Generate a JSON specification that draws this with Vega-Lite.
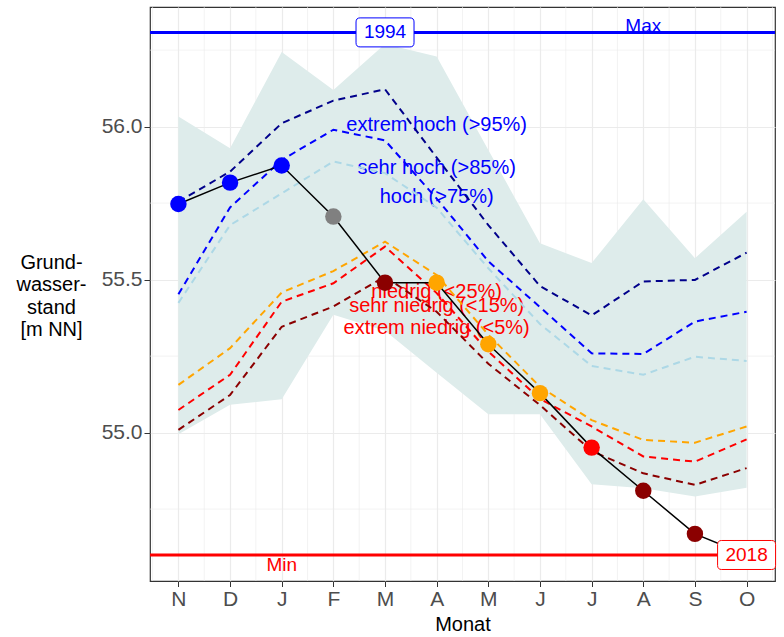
{
  "$schema": "https://vega.github.io/schema/vega-lite/v6.json",
  "width": 625,
  "height": 574,
  "autosize": {"type": "none"},
  "padding": {"left": 150, "top": 7, "right": 9, "bottom": 56},
  "background": "white",
  "config": {
    "font": "Liberation Sans",
    "view": {"stroke": "#333333", "strokeWidth": 1.2}
  },
  "datasets": {
    "obs": [
      {"m": 1, "wert": 55.747, "klasse": "sehr hoch"},
      {"m": 2, "wert": 55.817, "klasse": "sehr hoch"},
      {"m": 3, "wert": 55.873, "klasse": "sehr hoch"},
      {"m": 4, "wert": 55.706, "klasse": "normal"},
      {"m": 5, "wert": 55.490, "klasse": "extrem niedrig"},
      {"m": 6, "wert": 55.490, "klasse": "niedrig"},
      {"m": 7, "wert": 55.289, "klasse": "niedrig"},
      {"m": 8, "wert": 55.129, "klasse": "niedrig"},
      {"m": 9, "wert": 54.951, "klasse": "sehr niedrig"},
      {"m": 10, "wert": 54.810, "klasse": "extrem niedrig"},
      {"m": 11, "wert": 54.669, "klasse": "extrem niedrig"},
      {"m": 12, "wert": 54.600, "klasse": "extrem niedrig"}
    ],
    "band": [
      {"m": 1, "lo": 54.995, "hi": 56.033},
      {"m": 2, "lo": 55.091, "hi": 55.929},
      {"m": 3, "lo": 55.109, "hi": 56.244},
      {"m": 4, "lo": 55.385, "hi": 56.120},
      {"m": 5, "lo": 55.333, "hi": 56.270},
      {"m": 6, "lo": 55.196, "hi": 56.229},
      {"m": 7, "lo": 55.060, "hi": 55.924},
      {"m": 8, "lo": 55.060, "hi": 55.619},
      {"m": 9, "lo": 54.831, "hi": 55.554},
      {"m": 10, "lo": 54.818, "hi": 55.763},
      {"m": 11, "lo": 54.791, "hi": 55.570},
      {"m": 12, "lo": 54.820, "hi": 55.722}
    ],
    "perz": [
      {"m": 1, "serie": "p95", "wert": 55.755},
      {"m": 2, "serie": "p95", "wert": 55.853},
      {"m": 3, "serie": "p95", "wert": 56.011},
      {"m": 4, "serie": "p95", "wert": 56.085},
      {"m": 5, "serie": "p95", "wert": 56.122},
      {"m": 6, "serie": "p95", "wert": 55.899},
      {"m": 7, "serie": "p95", "wert": 55.678},
      {"m": 8, "serie": "p95", "wert": 55.479},
      {"m": 9, "serie": "p95", "wert": 55.383},
      {"m": 10, "serie": "p95", "wert": 55.494},
      {"m": 11, "serie": "p95", "wert": 55.499},
      {"m": 12, "serie": "p95", "wert": 55.588},
      {"m": 1, "serie": "p85", "wert": 55.452},
      {"m": 2, "serie": "p85", "wert": 55.736},
      {"m": 3, "serie": "p85", "wert": 55.891},
      {"m": 4, "serie": "p85", "wert": 55.990},
      {"m": 5, "serie": "p85", "wert": 55.955},
      {"m": 6, "serie": "p85", "wert": 55.765},
      {"m": 7, "serie": "p85", "wert": 55.560},
      {"m": 8, "serie": "p85", "wert": 55.410},
      {"m": 9, "serie": "p85", "wert": 55.259},
      {"m": 10, "serie": "p85", "wert": 55.257},
      {"m": 11, "serie": "p85", "wert": 55.363},
      {"m": 12, "serie": "p85", "wert": 55.395},
      {"m": 1, "serie": "p75", "wert": 55.424},
      {"m": 2, "serie": "p75", "wert": 55.678},
      {"m": 3, "serie": "p75", "wert": 55.782},
      {"m": 4, "serie": "p75", "wert": 55.886},
      {"m": 5, "serie": "p75", "wert": 55.848},
      {"m": 6, "serie": "p75", "wert": 55.735},
      {"m": 7, "serie": "p75", "wert": 55.537},
      {"m": 8, "serie": "p75", "wert": 55.355},
      {"m": 9, "serie": "p75", "wert": 55.218},
      {"m": 10, "serie": "p75", "wert": 55.189},
      {"m": 11, "serie": "p75", "wert": 55.248},
      {"m": 12, "serie": "p75", "wert": 55.234},
      {"m": 1, "serie": "p25", "wert": 55.156},
      {"m": 2, "serie": "p25", "wert": 55.276},
      {"m": 3, "serie": "p25", "wert": 55.458},
      {"m": 4, "serie": "p25", "wert": 55.528},
      {"m": 5, "serie": "p25", "wert": 55.624},
      {"m": 6, "serie": "p25", "wert": 55.515},
      {"m": 7, "serie": "p25", "wert": 55.320},
      {"m": 8, "serie": "p25", "wert": 55.150},
      {"m": 9, "serie": "p25", "wert": 55.041},
      {"m": 10, "serie": "p25", "wert": 54.976},
      {"m": 11, "serie": "p25", "wert": 54.967},
      {"m": 12, "serie": "p25", "wert": 55.020},
      {"m": 1, "serie": "p15", "wert": 55.074},
      {"m": 2, "serie": "p15", "wert": 55.189},
      {"m": 3, "serie": "p15", "wert": 55.428},
      {"m": 4, "serie": "p15", "wert": 55.488},
      {"m": 5, "serie": "p15", "wert": 55.608},
      {"m": 6, "serie": "p15", "wert": 55.456},
      {"m": 7, "serie": "p15", "wert": 55.265},
      {"m": 8, "serie": "p15", "wert": 55.110},
      {"m": 9, "serie": "p15", "wert": 55.020},
      {"m": 10, "serie": "p15", "wert": 54.922},
      {"m": 11, "serie": "p15", "wert": 54.905},
      {"m": 12, "serie": "p15", "wert": 54.978},
      {"m": 1, "serie": "p05", "wert": 55.009},
      {"m": 2, "serie": "p05", "wert": 55.123},
      {"m": 3, "serie": "p05", "wert": 55.346},
      {"m": 4, "serie": "p05", "wert": 55.412},
      {"m": 5, "serie": "p05", "wert": 55.510},
      {"m": 6, "serie": "p05", "wert": 55.395},
      {"m": 7, "serie": "p05", "wert": 55.225},
      {"m": 8, "serie": "p05", "wert": 55.090},
      {"m": 9, "serie": "p05", "wert": 54.940},
      {"m": 10, "serie": "p05", "wert": 54.867},
      {"m": 11, "serie": "p05", "wert": 54.829},
      {"m": 12, "serie": "p05", "wert": 54.884}
    ],
    "labels": [
      {"m": 6, "wert": 56.006, "text": "extrem hoch (>95%)", "grp": "hoch"},
      {"m": 6, "wert": 55.864, "text": "sehr hoch (>85%)", "grp": "hoch"},
      {"m": 6, "wert": 55.771, "text": "hoch (>75%)", "grp": "hoch"},
      {"m": 6, "wert": 55.461, "text": "niedrig (<25%)", "grp": "niedrig"},
      {"m": 6, "wert": 55.415, "text": "sehr niedrig (<15%)", "grp": "niedrig"},
      {"m": 6, "wert": 55.341, "text": "extrem niedrig (<5%)", "grp": "niedrig"}
    ],
    "extreme": [
      {"typ": "Max", "wert": 56.308, "jahr": "1994", "jm": 5, "lm": 10},
      {"typ": "Min", "wert": 54.600, "jahr": "2018", "jm": 12, "lm": 3}
    ],
    "gx": [
      {"m": 0.5}, {"m": 1.5}, {"m": 2.5}, {"m": 3.5}, {"m": 4.5}, {"m": 5.5}, {"m": 6.5},
      {"m": 7.5}, {"m": 8.5}, {"m": 9.5}, {"m": 10.5}, {"m": 11.5}, {"m": 12.5}
    ],
    "gy": [
      {"wert": 54.75}, {"wert": 55.25}, {"wert": 55.75}, {"wert": 56.25}
    ]
  },
  "resolve": {"scale": {"color": "independent", "stroke": "independent"}},
  "layer": [
    {
      "data": {"name": "gx"},
      "mark": {"type": "rule", "color": "#EBEBEB", "strokeWidth": 0.6},
      "encoding": {
        "x": {
          "field": "m", "type": "quantitative",
          "scale": {"domain": [0.45, 12.55], "nice": false, "zero": false},
          "axis": {
            "values": [1, 2, 3, 4, 5, 6, 7, 8, 9, 10, 11, 12],
            "labelExpr": "datum.value == 1 ? 'N' : datum.value == 2 ? 'D' : datum.value == 3 ? 'J' : datum.value == 4 ? 'F' : datum.value == 5 ? 'M' : datum.value == 6 ? 'A' : datum.value == 7 ? 'M' : datum.value == 8 ? 'J' : datum.value == 9 ? 'J' : datum.value == 10 ? 'A' : datum.value == 11 ? 'S' : 'O'",
            "title": "Monat",
            "grid": true,
            "gridColor": "#EBEBEB",
            "gridWidth": 1.2,
            "domain": false,
            "tickColor": "#333333", "tickSize": 5.5, "tickWidth": 1,
            "labelColor": "#4D4D4D", "labelFontSize": 21, "labelPadding": 2,
            "labelFlush": false, "labelOverlap": false,
            "titleFontSize": 20, "titleFontWeight": "normal", "titleColor": "#000000",
            "titlePadding": 5
          }
        }
      }
    },
    {
      "data": {"name": "gy"},
      "mark": {"type": "rule", "color": "#EBEBEB", "strokeWidth": 0.6},
      "encoding": {
        "y": {
          "field": "wert", "type": "quantitative",
          "scale": {"domain": [54.515, 56.391], "nice": false, "zero": false},
          "axis": {
            "values": [55, 55.5, 56],
            "format": ".1f",
            "title": ["Grund-", "wasser-", "stand", "[m NN]"],
            "grid": true,
            "gridColor": "#EBEBEB",
            "gridWidth": 1.2,
            "domain": false,
            "tickColor": "#333333", "tickSize": 6, "tickWidth": 1,
            "labelColor": "#4D4D4D", "labelFontSize": 21, "labelPadding": 2,
            "labelOverlap": false, "labelFlush": false,
            "titleFontSize": 20, "titleFontWeight": "normal", "titleColor": "#000000",
            "titleAngle": 0, "titleAlign": "center", "titleBaseline": "middle",
            "titleX": -99, "titleY": 255, "titleLineHeight": 22.5
          }
        }
      }
    },
    {
      "data": {"name": "band"},
      "mark": {"type": "area", "color": "#DEECEB", "opacity": 1},
      "encoding": {
        "x": {"field": "m", "type": "quantitative"},
        "y": {"field": "lo", "type": "quantitative"},
        "y2": {"field": "hi"}
      }
    },
    {
      "data": {"name": "labels"},
      "mark": {"type": "text", "align": "center", "baseline": "middle", "fontSize": 20},
      "encoding": {
        "x": {"field": "m", "type": "quantitative"},
        "y": {"field": "wert", "type": "quantitative"},
        "text": {"field": "text"},
        "color": {"field": "grp", "type": "nominal", "scale": {"domain": ["hoch", "niedrig"], "range": ["#0000FF", "#FF0000"]}, "legend": null}
      }
    },
    {
      "data": {"name": "extreme"},
      "mark": {"type": "rule", "strokeWidth": 3},
      "encoding": {
        "y": {"field": "wert", "type": "quantitative"},
        "color": {"field": "typ", "type": "nominal", "scale": {"domain": ["Max", "Min"], "range": ["#0000FF", "#FF0000"]}, "legend": null}
      }
    },
    {
      "data": {"name": "perz"},
      "mark": {"type": "line", "strokeDash": [7, 5], "strokeWidth": 2},
      "encoding": {
        "x": {"field": "m", "type": "quantitative"},
        "y": {"field": "wert", "type": "quantitative"},
        "color": {"field": "serie", "type": "nominal", "scale": {"domain": ["p95", "p85", "p75", "p25", "p15", "p05"], "range": ["#00008B", "#0000FF", "#ADD8E6", "#FFA500", "#FF0000", "#8B0000"]}, "legend": null},
        "detail": {"field": "serie"}
      }
    },
    {
      "data": {"name": "obs"},
      "mark": {"type": "line", "color": "#000000", "strokeWidth": 1.5},
      "encoding": {
        "x": {"field": "m", "type": "quantitative"},
        "y": {"field": "wert", "type": "quantitative"}
      }
    },
    {
      "data": {"name": "obs"},
      "mark": {"type": "point", "filled": true, "size": 270, "opacity": 1},
      "encoding": {
        "x": {"field": "m", "type": "quantitative"},
        "y": {"field": "wert", "type": "quantitative"},
        "color": {"field": "klasse", "type": "nominal", "scale": {"domain": ["sehr hoch", "normal", "niedrig", "sehr niedrig", "extrem niedrig"], "range": ["#0000FF", "#808080", "#FFA500", "#FF0000", "#8B0000"]}, "legend": null}
      }
    },
    {
      "data": {"name": "extreme"},
      "transform": [{"filter": "datum.typ === 'Max'"}],
      "mark": {"type": "text", "align": "center", "baseline": "alphabetic", "fontSize": 19, "dy": 0},
      "encoding": {
        "x": {"field": "lm", "type": "quantitative"},
        "y": {"field": "wert", "type": "quantitative"},
        "text": {"field": "typ"},
        "color": {"value": "#0000FF"}
      }
    },
    {
      "data": {"name": "extreme"},
      "transform": [{"filter": "datum.typ === 'Min'"}],
      "mark": {"type": "text", "align": "center", "baseline": "top", "fontSize": 19, "dy": 1},
      "encoding": {
        "x": {"field": "lm", "type": "quantitative"},
        "y": {"field": "wert", "type": "quantitative"},
        "text": {"field": "typ"},
        "color": {"value": "#FF0000"}
      }
    },
    {
      "data": {"name": "extreme"},
      "mark": {
        "type": "point",
        "shape": "M-0.86,-0.5H0.86Q1,-0.5 1,-0.36V0.36Q1,0.5 0.86,0.5H-0.86Q-1,0.5 -1,0.36V-0.36Q-1,-0.5 -0.86,-0.5Z",
        "size": 3364, "fill": "#FFFFFF", "fillOpacity": 1, "strokeWidth": 1, "opacity": 1
      },
      "encoding": {
        "x": {"field": "jm", "type": "quantitative"},
        "y": {"field": "wert", "type": "quantitative"},
        "stroke": {"field": "typ", "type": "nominal", "scale": {"domain": ["Max", "Min"], "range": ["#0000FF", "#FF0000"]}, "legend": null}
      }
    },
    {
      "data": {"name": "extreme"},
      "mark": {"type": "text", "align": "center", "baseline": "middle", "fontSize": 19},
      "encoding": {
        "x": {"field": "jm", "type": "quantitative"},
        "y": {"field": "wert", "type": "quantitative"},
        "text": {"field": "jahr"},
        "color": {"field": "typ", "type": "nominal", "scale": {"domain": ["Max", "Min"], "range": ["#0000FF", "#FF0000"]}, "legend": null}
      }
    }
  ]
}
